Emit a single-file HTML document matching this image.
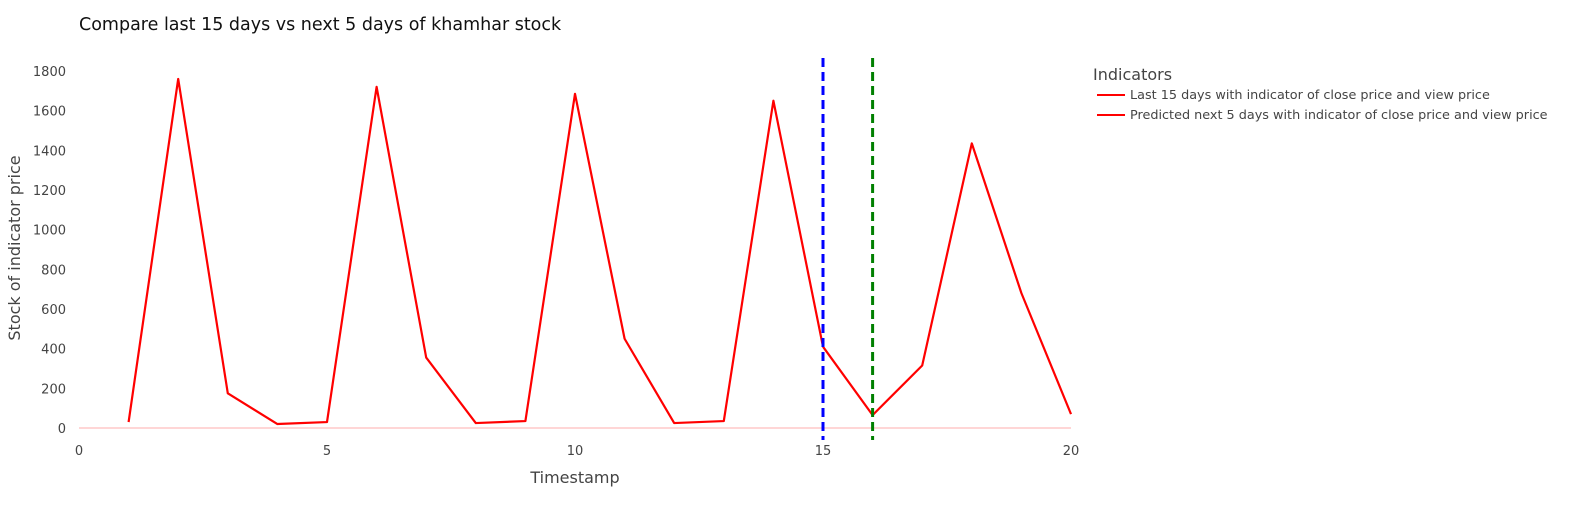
<!DOCTYPE html>
<html><head><meta charset="utf-8"><style>
body{margin:0;background:#fff;}
svg text{font-family:"DejaVu Sans","Liberation Sans",sans-serif;fill:#444;}
</style></head><body>
<svg id="c" width="1585" height="525">
<text x="79" y="30" font-size="17.5" fill="#000" style="fill:#111">Compare last 15 days vs next 5 days of khamhar stock</text>
<text x="575" y="483" font-size="16" text-anchor="middle">Timestamp</text>
<text transform="translate(20,248) rotate(-90)" font-size="16" text-anchor="middle">Stock of indicator price</text>
<g id="ticks"></g>
<g id="plot"></g>
<g>
<text x="1093" y="80" font-size="16">Indicators</text>
<line x1="1097" y1="95" x2="1125" y2="95" stroke="red" stroke-width="2"/>
<text x="1130" y="99" font-size="12.8">Last 15 days with indicator of close price and view price</text>
<line x1="1097" y1="115" x2="1125" y2="115" stroke="red" stroke-width="2"/>
<text x="1130" y="119" font-size="12.8">Predicted next 5 days with indicator of close price and view price</text>
</g>
</svg>
<script>
const lastX=[1,2,3,4,5,6,7,8,9,10,11,12,13,14,15];
const lastY=[30,1760,175,20,30,1720,355,25,35,1685,450,25,35,1650,410];
const predX=[15,16,17,18,19,20];
const predY=[410,65,315,1435,680,70];
const xTicks=[0,5,10,15,20];
const yTicks=[0,200,400,600,800,1000,1200,1400,1600,1800];
const vLines=[15,16];
const NS="http://www.w3.org/2000/svg";
const X=v=>79+v*(1071-79)/20;
const Y=v=>428-v*(428-71)/1800;
function mk(t,a,p){const e=document.createElementNS(NS,t);for(const k in a)e.setAttribute(k,a[k]);p.appendChild(e);return e;}
const tk=document.getElementById('ticks'),pl=document.getElementById('plot');
mk('line',{x1:79,x2:1071,y1:Y(0),y2:Y(0),stroke:'#ffd6d6','stroke-width':2},pl);
xTicks.forEach(v=>{const t=mk('text',{x:X(v),y:455,'font-size':13,'text-anchor':'middle'},tk);t.textContent=v;

});
yTicks.forEach(v=>{const t=mk('text',{x:66,y:Y(v)+5,'font-size':13,'text-anchor':'end'},tk);t.textContent=v;

});
function line(xs,ys,name){const p=mk('polyline',{points:xs.map((x,i)=>X(x)+','+Y(ys[i])).join(' '),fill:'none',stroke:'red','stroke-width':2.2,'stroke-linejoin':'round'},pl);

}
line(lastX,lastY,'last-15-days-line');
line(predX,predY,'predicted-5-days-line');
const cols=['blue','green'];
vLines.forEach((v,i)=>{const l=mk('line',{x1:X(v),x2:X(v),y1:58,y2:440,stroke:cols[i],'stroke-width':3,'stroke-dasharray':'9,5'},pl);

});
</script>
</body></html>
